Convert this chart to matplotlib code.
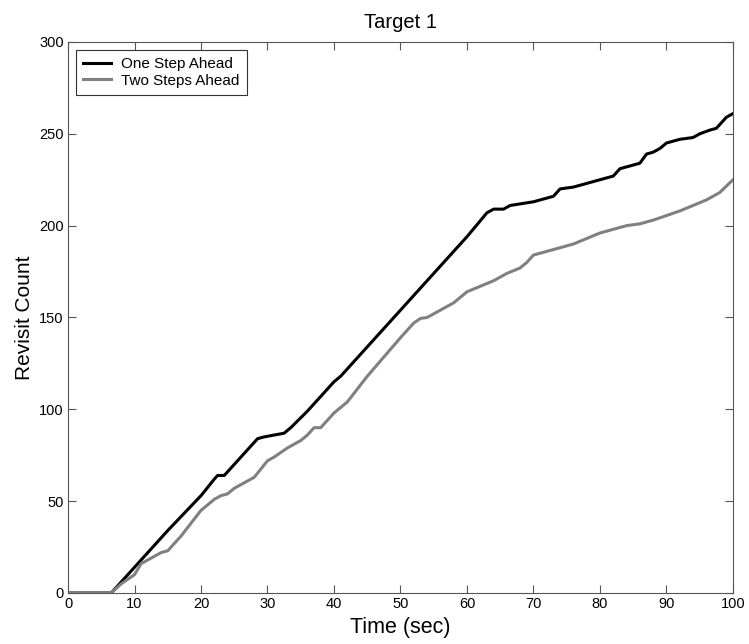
import matplotlib
matplotlib.use('Agg')
import matplotlib.pyplot as plt
import numpy as np

plt.rcParams['font.family'] = ['Liberation Sans', 'DejaVu Sans']

# One Step Ahead (black)
t_one = [0, 6.5, 10, 15, 20, 22, 22.5, 23.5, 25, 28.5, 29.5, 31, 32.5, 33.5,
         36, 40, 41, 45, 49, 55, 60, 63, 64, 65.5, 66.5, 70, 72, 73, 74, 76,
         78, 80, 81, 82, 83, 85, 86, 87, 88, 89, 90, 92, 94, 95, 96.5, 97.5,
         99, 100]
y_one = [0, 0, 14, 34, 53, 62, 64, 64, 70, 84, 85, 86, 87, 90,
         99, 115, 118, 134, 150, 174, 194, 207, 209, 209, 211, 213, 215, 216, 220, 221,
         223, 225, 226, 227, 231, 233, 234, 239, 240, 242, 245, 247, 248, 250, 252, 253,
         259, 261]

# Two Steps Ahead (gray)
t_two = [0, 6.5, 8, 10, 11, 12, 13, 14, 15, 17, 20, 22, 23, 24, 25, 27, 28,
         30, 31, 33, 35, 36, 37, 38, 40, 41, 42, 45, 50, 52, 53, 54, 56, 58,
         60, 62, 64, 66, 68, 69, 70, 72, 74, 76, 78, 80, 82, 84, 86, 88, 90,
         92, 94, 96, 98, 100]
y_two = [0, 0, 5, 10, 16, 18, 20, 22, 23, 31, 45, 51, 53, 54, 57, 61, 63,
         72, 74, 79, 83, 86, 90, 90, 98, 101, 104, 118, 139, 147, 149.5, 150, 154, 158,
         164, 167, 170, 174, 177, 180, 184, 186, 188, 190, 193, 196, 198, 200, 201, 203, 205.5,
         208, 211, 214, 218, 225]

x_ticks = np.arange(0, 101, 10)
y_ticks = np.arange(0, 301, 50)

fig = plt.figure(figsize=(7.49, 6.44), dpi=100)
ax = fig.add_axes([0.0908, 0.0792, 0.8878, 0.8556])

ax.plot(t_one, y_one, color='black', lw=2.2, label='One Step Ahead')
ax.plot(t_two, y_two, color='#808080', lw=2.2, label='Two Steps Ahead')

ax.set_xlim(0, 100)
ax.set_ylim(0, 300)
ax.set_xticks(x_ticks)
ax.set_yticks(y_ticks)
ax.tick_params(direction='in', length=6, top=True, right=True, labelsize=10.5,
               color='#555555', pad=3)
for s in ax.spines.values():
    s.set_color('#555555')

ax.set_title('Target 1', fontsize=14.5, pad=10)
ax.set_xlabel('Time (sec)', fontsize=15.5, labelpad=4)
ax.set_ylabel('Revisit Count', fontsize=15, labelpad=4)

leg = ax.legend(loc='upper left', fontsize=11, fancybox=False, framealpha=1,
                edgecolor='#333333', borderaxespad=0.5, handlelength=1.8,
                handletextpad=0.65, borderpad=0.5, labelspacing=0.15)
leg.get_frame().set_linewidth(0.8)

fig.savefig('out.png', dpi=100)
